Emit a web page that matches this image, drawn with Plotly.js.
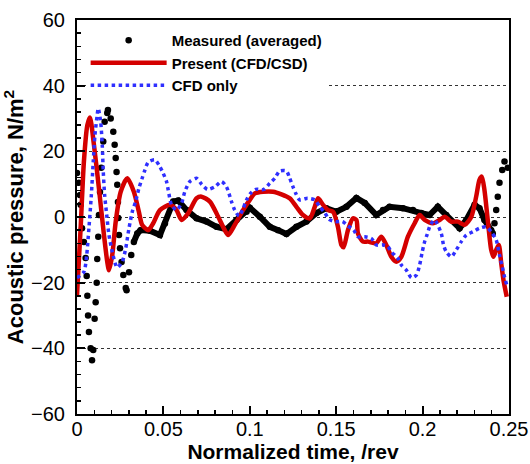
<!DOCTYPE html>
<html><head><meta charset="utf-8">
<script src="https://cdn.plot.ly/plotly-3.0.1.min.js"></script>
<style>html,body{margin:0;padding:0;background:#fff}#chart{width:530px;height:464px}</style>
</head><body><div id="chart"></div>
<script>
// Measured (averaged)
const measT = [0,0.001,0.0017,0.0021,0.0029,0.0040,0.0050,0.0056,0.0060,0.0064,0.0069,0.0079,0.0087,0.0094,0.0102,0.0108,0.0114,0.0117,0.0123,0.0127,0.0133,0.0140,0.0152,0.0160,0.0175,0.0179,0.0195,0.0210,0.0218,0.0224,0.0229,0.0233,0.0237,0.0239,0.0243,0.0249,0.0258,0.0268,0.0282,0.0287,0.0301,0.0314,0.0329,0.0349,0.0368,0.0422,0.0480,0.0509,0.0557,0.0586,0.0634,0.0692,0.0750,0.0808,0.0865,0.0923,0.0981,0.1000,0.1058,0.1116,0.1164,0.1212,0.1270,0.1328,0.1386,0.1443,0.1501,0.1559,0.1617,0.1665,0.1732,0.1771,0.1809,0.1886,0.1944,0.1992,0.2040,0.2088,0.2137,0.2214,0.2253,0.2301,0.2329,0.2358,0.2397,0.2406,0.2416,0.2426,0.2435,0.2445,0.2461,0.2474,0.2493];
const measV = [13.4,10.4,6.7,3.7,-3.4,-7.6,-12.5,-18,-24,-30,-35,-40,-43.6,-40.5,-31,-26,-20,-12.8,-6,0.6,7.6,15,23,29,31.7,32.6,30,26,22,18,13.7,9.8,4.6,-0.3,-5.5,-9.5,-13.7,-17.7,-21.6,-22.3,-16.8,-11.6,-7.6,-5,-4,-4.2,-5.5,-2,4.7,5,2.1,-0.4,-1.4,-3,-3.7,-0.9,1.6,2.8,0.1,-3,-4,-5.2,-3,-1.4,1.2,2.7,1.6,3.1,5.8,4.3,0.6,2.1,3.1,2.7,2.1,1.2,0.6,3.1,0.6,-3.4,-0.9,3.7,2.7,-0.9,-4,-5,-1.9,2.1,6.2,10.4,14.3,16.9,15];

// Present (CFD/CSD)
const presT = [0,0.0021,0.0040,0.0060,0.0075,0.0098,0.0127,0.0156,0.0175,0.0185,0.0204,0.0224,0.0253,0.0291,0.0329,0.0358,0.0377,0.0412,0.0441,0.0480,0.0538,0.0576,0.0605,0.0643,0.0692,0.0721,0.0769,0.0817,0.0855,0.0875,0.0913,0.0961,0.1000,0.1029,0.1077,0.1135,0.1183,0.1231,0.1270,0.1308,0.1347,0.1376,0.1395,0.1424,0.1453,0.1482,0.1510,0.1530,0.1543,0.1568,0.1597,0.1617,0.1626,0.1655,0.1684,0.1732,0.1761,0.1790,0.1819,0.1848,0.1877,0.1915,0.1954,0.1983,0.2012,0.2060,0.2098,0.2127,0.2166,0.2204,0.2243,0.2282,0.2310,0.2329,0.2343,0.2358,0.2377,0.2397,0.2410,0.2426,0.2441,0.2455,0.2468,0.2487];
const presV = [-23.8,-3.4,16.9,28,30.3,22,8.7,-5.5,-13.6,-16.2,-11.6,-1.4,7.7,11.8,7.7,1.6,-2.4,-4,-1.9,2.1,3.7,2.1,-0.9,1.1,5.7,6.2,4.7,0.1,-4,-5.5,-2.4,2.1,5.2,7.2,7.7,7.7,6.9,5.7,3.1,0.6,-0.4,3.1,5.7,3.7,2.1,1.6,-3,-8.5,-9.2,-4,-0.4,-0.9,-5,-7.5,-7.5,-8,-6,-8.5,-12.1,-13.6,-12.1,-6,-1.9,0.6,-0.9,-1.9,-0.9,0.1,-1.4,-1.4,-2.4,0.1,6.2,11.3,12.3,8.2,-0.9,-10,-12.1,-10,-8.5,-14.1,-19.2,-24.3];

// CFD only
const cfdT = [0,0.0040,0.0056,0.0069,0.0083,0.0094,0.0104,0.0117,0.0123,0.0137,0.0146,0.0152,0.0160,0.0172,0.0185,0.0204,0.0224,0.0233,0.0262,0.0282,0.0301,0.0320,0.0339,0.0358,0.0377,0.0393,0.0412,0.0451,0.0480,0.0499,0.0518,0.0528,0.0547,0.0576,0.0605,0.0624,0.0653,0.0692,0.0721,0.0755,0.0798,0.0836,0.0865,0.0894,0.0913,0.0938,0.0961,0.0981,0.1004,0.1035,0.1081,0.1116,0.1145,0.1173,0.1212,0.1231,0.1250,0.1266,0.1289,0.1334,0.1376,0.1405,0.1434,0.1458,0.1497,0.1536,0.1568,0.1601,0.1626,0.1665,0.1703,0.1732,0.1771,0.1799,0.1819,0.1838,0.1857,0.1877,0.1906,0.1935,0.1964,0.1983,0.1998,0.2012,0.2025,0.2045,0.2069,0.2108,0.2121,0.2137,0.2166,0.2195,0.2224,0.2253,0.2291,0.2329,0.2368,0.2397,0.2426,0.2445,0.2461,0.2474,0.2487];
const cfdV = [-18.5,-16.7,-11.6,-3.4,6.7,16.9,25,31.1,33.1,29,22,13.8,6.7,0.6,-5.5,-10.6,-14.6,-15.4,-13.6,-9.5,-3.4,1.6,4.7,8.7,11.8,14.3,16.7,17.4,15.3,13.3,10.8,8.2,3.7,2.1,4.2,7.7,10.8,11.8,10,8.4,9.2,10.8,9.2,4.7,2.1,0.3,2.6,5.2,7.2,8.4,8.4,10.3,11.8,14,14,11.8,9.2,7.2,5.2,5.7,5.2,3.1,1.3,-0.7,-1.4,-1.4,-2.7,-4,-6,-6,-6.5,-8.5,-8.5,-9,-10.6,-11.6,-12.6,-14.6,-16.2,-18.5,-17.7,-14.6,-10.6,-7.5,-5.5,-2.4,-0.9,-5,-8.5,-10.6,-12.1,-10,-7.5,-5.5,-4.5,-3.4,-3,-4.5,-7,-11.6,-15.1,-18.2,-20.7];

const seriesNames = ['Measured (averaged)', 'Present (CFD/CSD)', 'CFD only'];
const xTitle = 'Normalized time, /rev';
const yTitle = 'Acoustic pressure, N/m<sup>2</sup>';

// the dense (flat) part of the measured record appears as a continuous thick line
const dense = measT.map((t, i) => i).filter(i => measT[i] >= 0.0329 && measT[i] <= 0.2406);

const FONT = 'Liberation Sans, Arial, Helvetica, sans-serif';

const traces = [
  { x: dense.map(i => measT[i]), y: dense.map(i => measV[i]), mode: 'lines',
    line: { color: '#000', width: 6 }, showlegend: false, hoverinfo: 'skip' },
  { x: measT, y: measV, mode: 'markers', name: seriesNames[0],
    marker: { color: '#000', size: 6.5 } },
  { x: presT, y: presV, mode: 'lines', name: seriesNames[1],
    line: { color: '#d40000', width: 4.5, shape: 'spline', smoothing: 0.7 } },
  { x: cfdT, y: cfdV, mode: 'lines', name: seriesNames[2],
    line: { color: '#2f2fff', width: 3.5, dash: 'dot', shape: 'spline', smoothing: 0.7 } }
];

const layout = {
  width: 530, height: 464,
  margin: { l: 77, r: 21, t: 20, b: 50 },
  paper_bgcolor: '#fff', plot_bgcolor: '#fff',
  font: { family: FONT, color: '#000' },
  showlegend: true,
  legend: {
    x: 0.02, y: 0.99, xanchor: 'left', yanchor: 'top',
    bgcolor: '#fff', borderwidth: 0,
    font: { family: FONT, size: 15, color: '#000', weight: 'bold' },
    itemwidth: 76, tracegroupgap: 0
  },
  xaxis: {
    range: [0, 0.25], tickvals: [0, 0.05, 0.1, 0.15, 0.2, 0.25],
    ticktext: ['0', '0.05', '0.1', '0.15', '0.2', '0.25'],
    ticks: 'inside', ticklen: 8, tickwidth: 2, tickcolor: '#000',
    minor: { dtick: 0.01, ticks: 'inside', ticklen: 4, tickwidth: 1.5, tickcolor: '#000' },
    showline: true, linewidth: 2, linecolor: '#000', mirror: true,
    showgrid: false, zeroline: false, ticklabelstandoff: -4,
    tickfont: { family: FONT, size: 20, color: '#000' },
    title: { text: xTitle, font: { family: FONT, size: 21, color: '#000', weight: 'bold' }, standoff: 2 }
  },
  yaxis: {
    range: [-60, 60], tickvals: [-60, -40, -20, 0, 20, 40, 60],
    ticks: 'inside', ticklen: 8, tickwidth: 2, tickcolor: '#000',
    minor: { dtick: 4, ticks: 'inside', ticklen: 4, tickwidth: 1.5, tickcolor: '#000', showgrid: false },
    showline: true, linewidth: 2, linecolor: '#000', mirror: true,
    showgrid: true, gridcolor: '#333', gridwidth: 1, griddash: '3px,3px',
    zeroline: false, ticklabelstandoff: 6,
    tickfont: { family: FONT, size: 20, color: '#000' },
    title: { text: yTitle, font: { family: FONT, size: 22, color: '#000', weight: 'bold' }, standoff: 6 }
  }
};

Plotly.newPlot('chart', traces, layout, { displayModeBar: false, staticPlot: true });
</script>
</body></html>
